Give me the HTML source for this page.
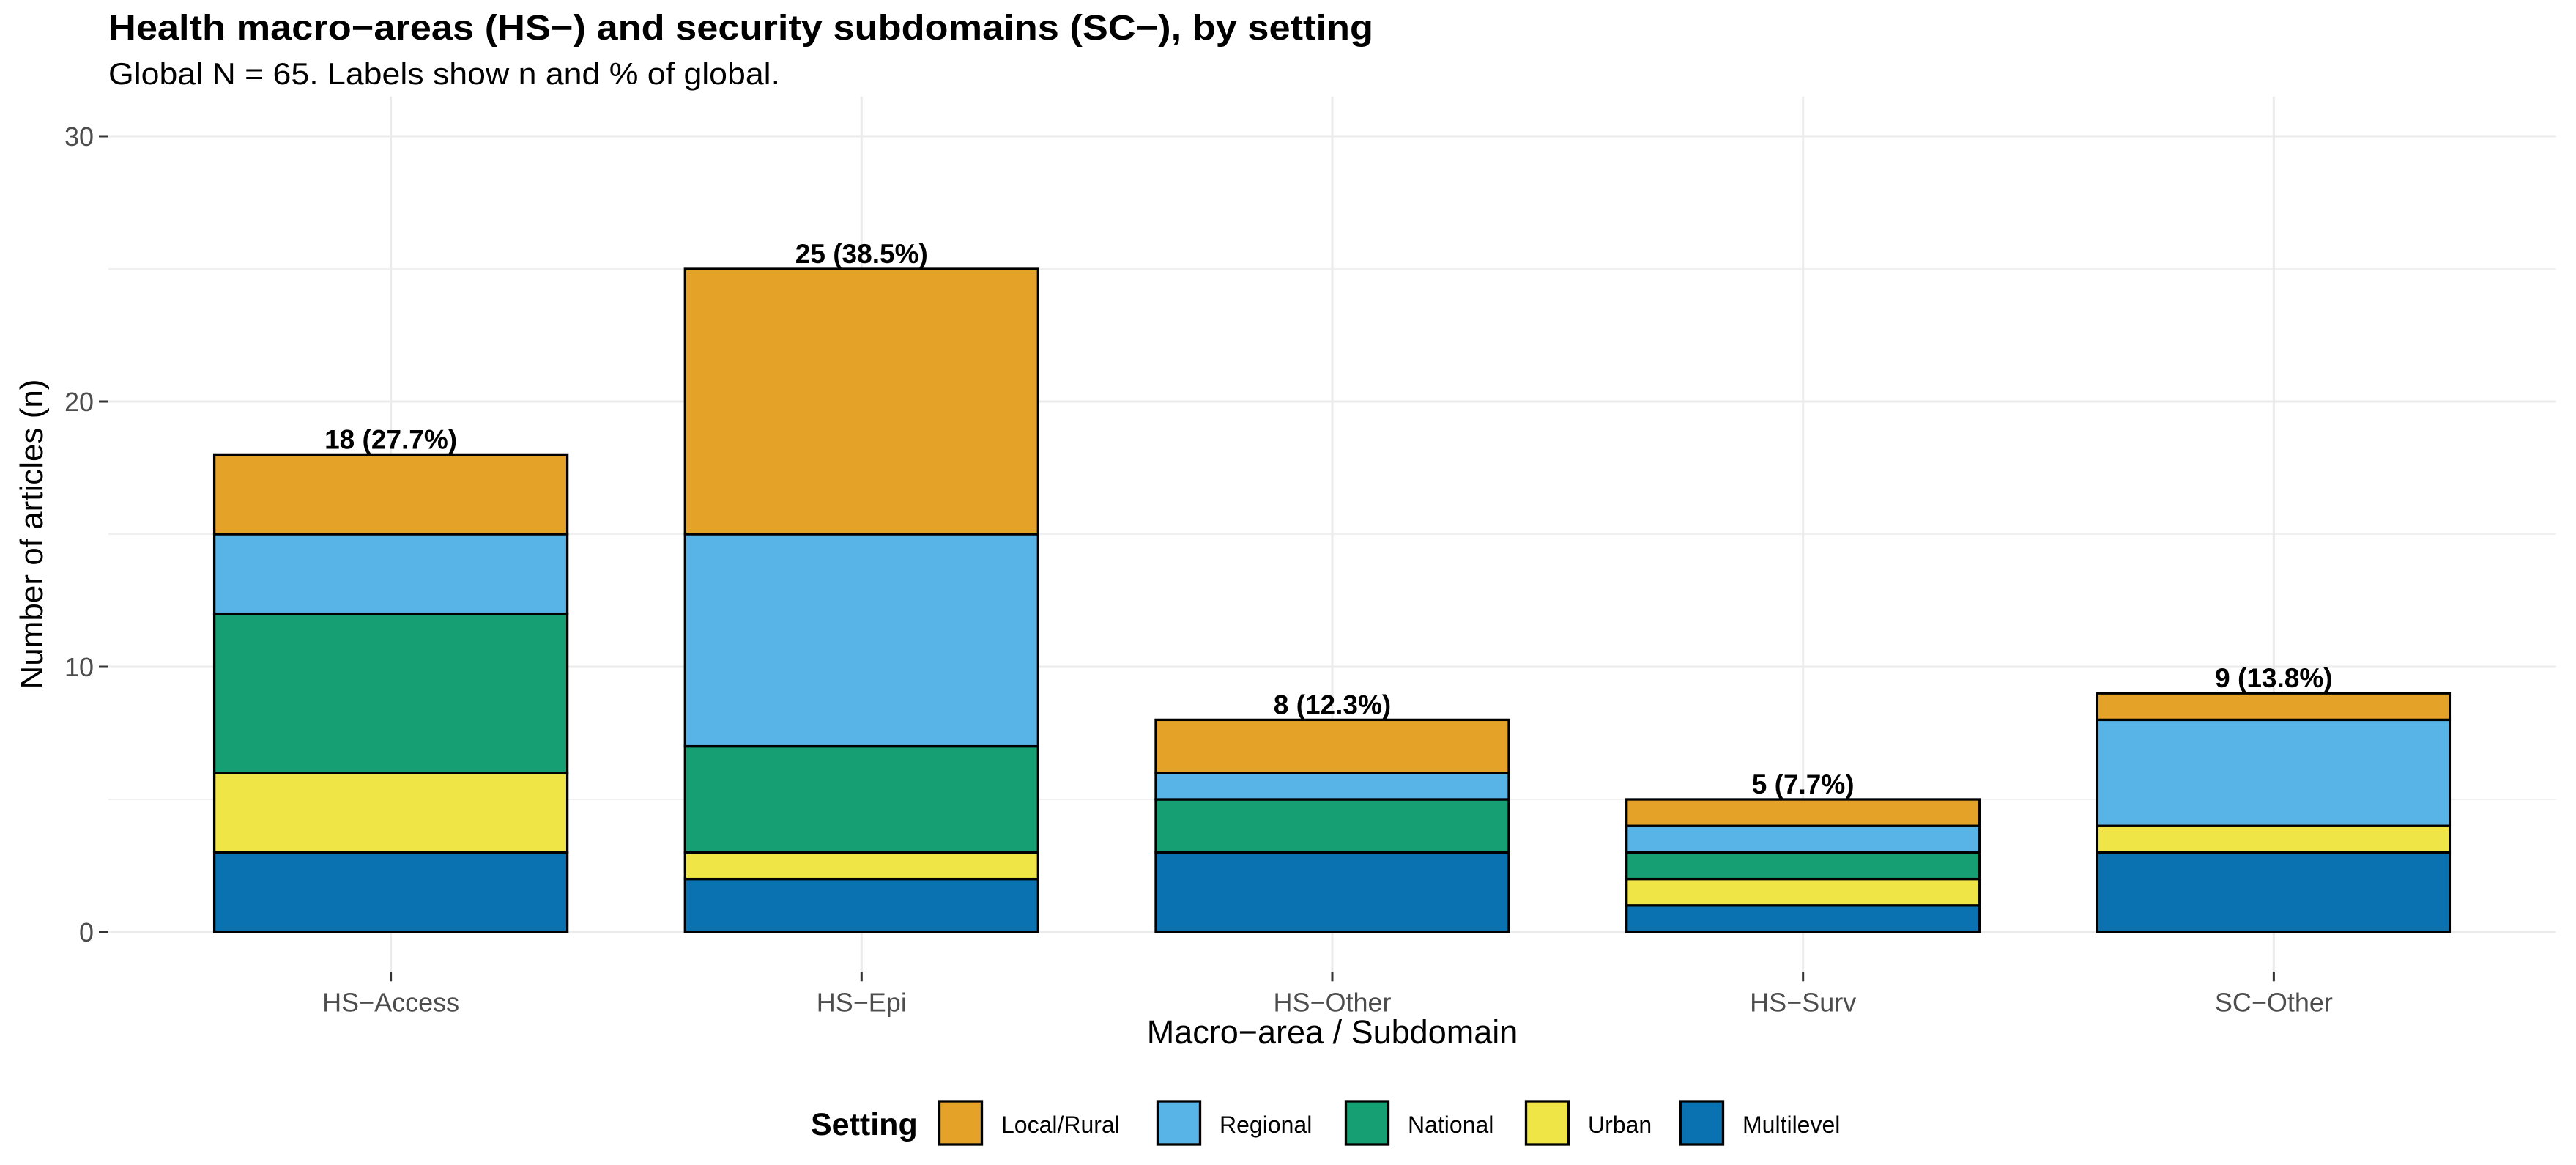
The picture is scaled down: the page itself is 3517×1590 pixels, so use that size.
<!DOCTYPE html>
<html><head><meta charset="utf-8"><style>
html,body{margin:0;padding:0;background:#fff;}
svg{display:block;font-family:"Liberation Sans",Arial,sans-serif;}
</style></head><body>
<svg id="chart" width="3517" height="1590" viewBox="0 0 3517 1590" xmlns="http://www.w3.org/2000/svg">
<text x="148" y="54" font-size="48" font-weight="bold" fill="#000" textLength="1727" lengthAdjust="spacingAndGlyphs">Health macro−areas (HS−) and security subdomains (SC−), by setting</text>
<text x="148" y="115" font-size="42" fill="#000" textLength="917" lengthAdjust="spacingAndGlyphs">Global N = 65. Labels show n and % of global.</text>
<g id="grid"></g>
<g id="bars"></g>
<g id="axes"></g>
<text transform="translate(58,729) rotate(-90)" text-anchor="middle" font-size="44" fill="#000">Number of articles (n)</text>
<text x="1819" y="1424" text-anchor="middle" font-size="45" fill="#000">Macro−area / Subdomain</text>
<g id="legend"></g>
</svg>
<script>
const categories = ["HS−Access","HS−Epi","HS−Other","HS−Surv","SC−Other"];
const settings = ["Multilevel","Urban","National","Regional","Local/Rural"];
const multilevel = [3,2,3,1,3];
const urban = [3,1,0,1,1];
const national = [6,4,2,1,0];
const regional = [3,8,1,1,4];
const localRural = [3,10,2,1,1];
const globalN = 65;
const yTicks = [0,10,20,30];
const yMinor = [5,15,25];
const legendOrder = ["Local/Rural","Regional","National","Urban","Multilevel"];

const series = [multilevel, urban, national, regional, localRural];
const colors = {"Multilevel":"#0A72B1","Urban":"#EFE546","National":"#169F72","Regional":"#58B3E6","Local/Rural":"#E5A228"};
const NS = "http://www.w3.org/2000/svg";
function mk(tag, attrs, parent){const e=document.createElementNS(NS,tag);for(const k in attrs)e.setAttribute(k,attrs[k]);parent.appendChild(e);return e;}
const panelL=148, panelR=3490, y0=1272, unit=36.2;
const yMin=-1.5, yMax=31.5;
const yS = v => y0 - v*unit;
const step = (panelR-panelL)/(categories.length - 1 + 1.2);
const xS = i => panelL + 0.6*step + i*step;
const barW = step*0.75;
const grid=document.getElementById('grid'), bars=document.getElementById('bars'), axes=document.getElementById('axes'), legend=document.getElementById('legend');

yMinor.forEach(v=>{
  const l=mk('line',{x1:panelL,x2:panelR,y1:yS(v),y2:yS(v),stroke:'#ebebeb','stroke-width':1.5},grid);
  
  
});
yTicks.forEach(v=>{
  const l=mk('line',{x1:panelL,x2:panelR,y1:yS(v),y2:yS(v),stroke:'#ebebeb','stroke-width':3},grid);
  
  
  const t=mk('line',{x1:panelL-13,x2:panelL,y1:yS(v),y2:yS(v),stroke:'#333','stroke-width':3},axes);
  
  
  const tx=mk('text',{x:panelL-20,y:yS(v)+13,'text-anchor':'end','font-size':36,fill:'#4d4d4d'},axes);
  tx.textContent=v;
  
  
});
categories.forEach((c,i)=>{
  const x=xS(i);
  const l=mk('line',{x1:x,x2:x,y1:yS(yMax),y2:yS(yMin),stroke:'#ebebeb','stroke-width':3},grid);
  
  
  const t=mk('line',{x1:x,x2:x,y1:yS(yMin),y2:yS(yMin)+13,stroke:'#333','stroke-width':3},axes);
  
  
  const tx=mk('text',{x:x,y:yS(yMin)+54,'text-anchor':'middle','font-size':36,fill:'#4d4d4d'},axes);
  tx.textContent=c;
  
  
  let cum=0;
  series.forEach((s,k)=>{
    const v=s[i];
    if(v>0){
      const r=mk('rect',{x:x-barW/2,y:yS(cum+v),width:barW,height:v*unit,fill:colors[settings[k]],stroke:'#000','stroke-width':3.3},bars);
      
      
    }
    cum+=v;
  });
  const lab=mk('text',{x:x,y:yS(cum)-8,'text-anchor':'middle','font-size':37,'font-weight':'bold',fill:'#000'},bars);
  lab.textContent=cum+" ("+(cum/globalN*100).toFixed(1)+"%)";
  
  
});
const lt=mk('text',{x:1107,y:1549,'font-size':43,'font-weight':'bold',fill:'#000'},legend);
lt.textContent="Setting";


const keyX=[1281,1579,1836,2082,2293];
legendOrder.forEach((name,j)=>{
  const r=mk('rect',{x:keyX[j]+1.5,y:1503,width:58,height:59,fill:colors[name],stroke:'#000','stroke-width':3.3},legend);
  
  
  const t=mk('text',{x:keyX[j]+86,y:1546,'font-size':32,fill:'#000'},legend);
  t.textContent=name;
  
  
});
</script>
</body></html>
